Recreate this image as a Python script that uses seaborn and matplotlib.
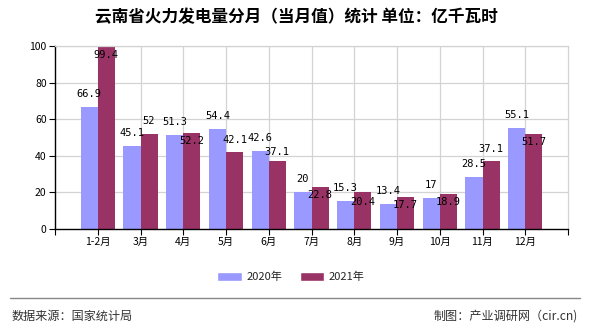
import matplotlib
matplotlib.use("Agg")
import matplotlib.pyplot as plt
import seaborn as sns
import pandas as pd
from matplotlib.patches import Patch

categories = ["1-2月", "3月", "4月", "5月", "6月", "7月", "8月", "9月", "10月", "11月", "12月"]
values_2020 = [66.9, 45.1, 51.3, 54.4, 42.6, 20, 15.3, 13.4, 17, 28.5, 55.1]
values_2021 = [99.4, 52, 52.2, 42.1, 37.1, 22.8, 20.4, 17.7, 18.9, 37.1, 51.7]
series_names = ["2020年", "2021年"]
y_ticks = [0, 20, 40, 60, 80, 100]

# label vertical offsets (pixels, + above bar top, - below)
offsets_2020 = [13] * 11
offsets_2021 = [-8, 13, -8, 12, 9, -8, -10, -8, -8, 12, -8]

sns.set_theme(style="white")
plt.rcParams["font.family"] = ["Noto Sans CJK SC", "DejaVu Sans"]

df = pd.DataFrame({
    "month": categories * 2,
    "value": values_2020 + values_2021,
    "year": [series_names[0]] * len(categories) + [series_names[1]] * len(categories),
})

fig = plt.figure(figsize=(5.9, 3.3), dpi=100)
ax = fig.add_axes([55 / 590, 1 - 229 / 330, (568 - 55) / 590, (229 - 46) / 330])

sns.barplot(data=df, x="month", y="value", hue="year", order=categories,
            hue_order=series_names, palette=["#9999FF", "#993366"],
            width=0.8, saturation=1, ax=ax, legend=False, zorder=2,
            linewidth=0, edgecolor="none")

ax.set_xlim(-1, 11)
ax.set_ylim(0, 100)
ax.set_yticks(y_ticks)
ax.set_yticklabels([str(v) for v in y_ticks], fontsize=7.5)
ax.set_xticks(range(-1, 12))
ax.set_xticklabels([""] + categories + [""], fontsize=7.5)
ax.set_xlabel("")
ax.set_ylabel("")
for x in range(0, 11):
    ax.axvline(x, color="#d3d3d3", lw=0.9, zorder=0)
for y in y_ticks[1:]:
    ax.axhline(y, color="#d3d3d3", lw=0.9, zorder=0)

for name, sp in ax.spines.items():
    sp.set_visible(True)
    if name in ("left", "bottom"):
        sp.set_color("black")
        sp.set_linewidth(1.0)
    else:
        sp.set_color("#d3d3d3")
        sp.set_linewidth(0.9)
ax.tick_params(axis="both", which="both", direction="out", length=4, width=0.8,
               color="black", labelcolor="black", pad=2, left=True, bottom=True)

for cont, vals, offs in zip(ax.containers, [values_2020, values_2021], [offsets_2020, offsets_2021]):
    for bar, v, o in zip(cont, vals, offs):
        cx = bar.get_x() + bar.get_width() / 2
        ax.annotate(f"{v:g}", (cx, bar.get_height()), xytext=(0, o * 0.72),
                    textcoords="offset points", ha="center", va="center",
                    fontsize=7.5, family="DejaVu Sans Mono", color="black", zorder=5)

# title
fig.text(296 / 590, 1 - 17 / 330, "云南省火力发电量分月（当月值）统计 单位：亿千瓦时",
         ha="center", va="center", fontsize=12, fontweight="bold", color="black")

# legend
handles = [Patch(facecolor="#9999FF"), Patch(facecolor="#993366")]
fig.legend(handles, series_names, loc="center", bbox_to_anchor=(291 / 590, 1 - 277 / 330),
           ncol=2, frameon=False, fontsize=8, handlelength=2.2, handleheight=0.9,
           handletextpad=0.4, columnspacing=1.6)

# footer line
fig.add_artist(plt.Line2D([10 / 590, 580 / 590], [1 - 298 / 330] * 2, color="#888888", lw=1))
fig.text(12 / 590, 1 - 316 / 330, "数据来源：国家统计局", ha="left", va="center",
         fontsize=8.7, color="#333333")
fig.text(578 / 590, 1 - 316 / 330, "制图：产业调研网（cir.cn)", ha="right", va="center",
         fontsize=8.7, color="#333333")

fig.savefig("out.png", dpi=100)
